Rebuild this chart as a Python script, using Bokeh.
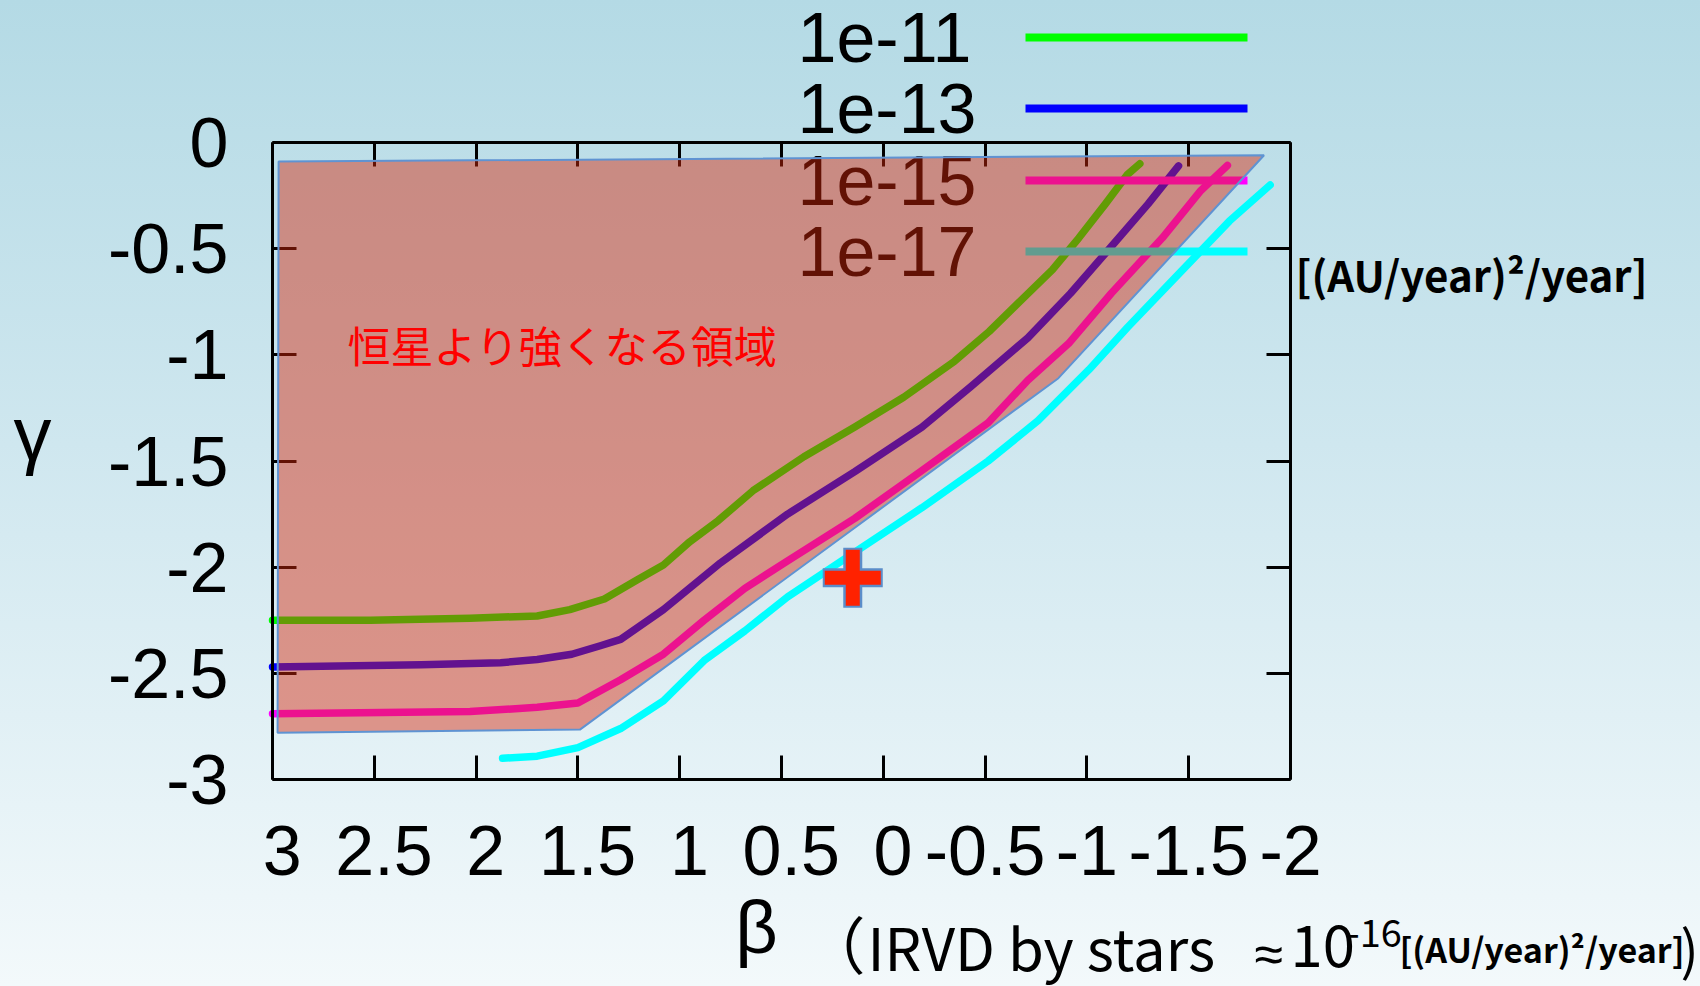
from bokeh.plotting import figure
from bokeh.models import Range1d, FixedTicker, LinearAxis, Label, Arrow, CustomJSTickFormatter
from bokeh.core.properties import value
from bokeh.embed import file_html
from bokeh.resources import INLINE

# ---------------- data ----------------
series_labels = ["1e-11", "1e-13", "1e-15", "1e-17"]
series_colors = ["#00ff00", "#0000ff", "#ff00ff", "#00ffff"]

beta_1e11 = [3.0, 2.52, 2.03, 1.70, 1.54, 1.37, 1.21, 1.08, 0.95, 0.81, 0.64, 0.39, 0.14,
             -0.10, -0.35, -0.52, -0.68, -0.83, -0.96, -1.09, -1.20, -1.26]
gamma_1e11 = [-2.25, -2.25, -2.24, -2.23, -2.20, -2.15, -2.06, -1.99, -1.88, -1.78, -1.64, -1.48,
              -1.34, -1.20, -1.03, -0.89, -0.74, -0.60, -0.45, -0.29, -0.15, -0.10]

beta_1e13 = [3.0, 2.27, 1.88, 1.70, 1.53, 1.39, 1.29, 1.08, 0.80, 0.47, 0.14, -0.19, -0.43,
             -0.71, -0.92, -1.12, -1.30, -1.45]
gamma_1e13 = [-2.47, -2.46, -2.45, -2.435, -2.41, -2.37, -2.34, -2.20, -1.98, -1.75, -1.55,
              -1.34, -1.15, -0.92, -0.71, -0.49, -0.29, -0.11]

beta_1e15 = [3.0, 2.03, 1.70, 1.50, 1.29, 1.08, 0.88, 0.68, 0.47, 0.14, -0.19, -0.515, -0.71,
             -0.91, -1.12, -1.37, -1.56, -1.69]
gamma_1e15 = [-2.69, -2.68, -2.66, -2.64, -2.53, -2.41, -2.25, -2.10, -1.97, -1.77, -1.545,
              -1.32, -1.12, -0.947, -0.71, -0.45, -0.226, -0.108]

beta_1e17 = [1.87, 1.70, 1.50, 1.29, 1.08, 0.88, 0.68, 0.47, 0.11, -0.19, -0.515, -0.76, -1.01,
             -1.20, -1.45, -1.70, -1.90]
gamma_1e17 = [-2.90, -2.89, -2.85, -2.76, -2.63, -2.44, -2.30, -2.14, -1.91, -1.72, -1.50, -1.31,
              -1.07, -0.87, -0.62, -0.37, -0.20]

region_beta = [2.97, -1.87, -0.86, 1.49, 2.975]
region_gamma = [-0.09, -0.06, -1.11, -2.765, -2.78]
region_label = "恒星より強くなる領域"

point_beta = [0.15]
point_gamma = [-2.05]

x_ticks = [3, 2.5, 2, 1.5, 1, 0.5, 0, -0.5, -1, -1.5, -2]
# gnuplot pads non-negative labels with a leading (sign) space
x_tick_labels = ["\u00a03", "\u00a02.5", "\u00a02", "\u00a01.5", "\u00a01", "\u00a00.5", "\u00a00",
                 "-0.5", "-1", "-1.5", "-2"]
y_ticks = [0, -0.5, -1, -1.5, -2, -2.5, -3]
y_tick_labels = ["0", "-0.5", "-1", "-1.5", "-2", "-2.5", "-3"]

series_beta = [beta_1e11, beta_1e13, beta_1e15, beta_1e17]
series_gamma = [gamma_1e11, gamma_1e13, gamma_1e15, gamma_1e17]

# ---------------- layout ----------------
W, H = 1700, 986
BL, BR, BT, BB = 272, 1290, 142, 779   # data box edges in canvas pixels
X0, X1 = 3.0, -2.0     # beta at box left / right
Y0, Y1 = -3.0, 0.0     # gamma at box bottom / top
kx = (X1 - X0) / (BR - BL)
ky = (Y1 - Y0) / (BB - BT)


def bx(px):
    return X0 + kx * (px - BL)


def gy(py):
    return Y1 - ky * (py - BT)


p = figure(width=W, height=H,
           x_range=Range1d(bx(0), bx(W)), y_range=Range1d(gy(H), gy(0)),
           output_backend="svg", toolbar_location=None, min_border=0)
p.title.visible = False
p.border_fill_color = None
p.background_fill_color = None
p.outline_line_color = None
p.grid.visible = False
p.styles = {"background-image": "linear-gradient(to bottom, #b4dae5 0%, #cfe7ef 45%, #f3f9fb 100%)"}

TICK_FONT = "Liberation Sans"
TS = "70px"

xa = p.xaxis[0]
xa.ticker = FixedTicker(ticks=x_ticks)
xa.major_label_overrides = {t: s for t, s in zip(x_ticks, x_tick_labels)}
xa.fixed_location = Y0
xa.bounds = (min(X0, X1), max(X0, X1))
ya = p.yaxis[0]
ya.ticker = FixedTicker(ticks=y_ticks)
ya.major_label_overrides = {t: s for t, s in zip(y_ticks, y_tick_labels)}
ya.fixed_location = X0
ya.bounds = (Y0, Y1)

top_axis = LinearAxis(ticker=FixedTicker(ticks=x_ticks), fixed_location=Y1,
                      bounds=(min(X0, X1), max(X0, X1)),
                      formatter=CustomJSTickFormatter(code="return ''"))
right_axis = LinearAxis(ticker=FixedTicker(ticks=y_ticks), fixed_location=X1,
                        bounds=(Y0, Y1),
                        formatter=CustomJSTickFormatter(code="return ''"))
p.add_layout(top_axis, "above")
p.add_layout(right_axis, "right")

for ax in [xa, ya, top_axis, right_axis]:
    ax.axis_line_width = 3
    ax.axis_line_color = "black"
    ax.major_tick_line_width = 3
    ax.major_tick_line_color = "black"
    ax.major_tick_in = 24
    ax.major_tick_out = 0
    ax.minor_tick_line_color = None
    ax.major_label_text_font = TICK_FONT
    ax.major_label_text_font_size = TS
    ax.major_label_text_color = "black"
xa.major_label_standoff = 32
ya.major_label_standoff = 44
top_axis.major_label_text_font_size = "1px"
right_axis.major_label_text_font_size = "1px"

# ---------------- curves ----------------
for b, g, c in zip(series_beta, series_gamma, series_colors):
    p.line(b, g, line_color=c, line_width=7.5, line_join="round", line_cap="round")

# ---------------- legend (gnuplot style: text then sample) ----------------
leg_line_rows = [37, 108, 180, 251]
leg_text_mid = [37, 108, 180, 251]
for lab, c, row, mid in zip(series_labels, series_colors, leg_line_rows, leg_text_mid):
    p.add_layout(Label(x=bx(797), y=gy(mid), text=lab, text_font=TICK_FONT,
                       text_font_size=TS, text_color="black",
                       text_align="left", text_baseline="middle"))
    p.add_layout(Arrow(end=None, x_start=bx(1025), y_start=gy(row), x_end=bx(1247), y_end=gy(row),
                       line_color=c, line_width=8))

# ---------------- axis titles ----------------
p.add_layout(Label(x=bx(32), y=gy(433), text="γ", text_font=TICK_FONT, text_font_size="76px",
                   text_color="black", text_align="center", text_baseline="middle"))
p.add_layout(Label(x=bx(756), y=gy(927), text="β", text_font=TICK_FONT, text_font_size="74px",
                   text_color="black", text_align="center", text_baseline="middle"))

# units
CJK = "Noto Sans CJK JP"
p.add_layout(Label(x=bx(1295), y=gy(273), text="[(AU/year)²/year]", text_font=CJK,
                   text_font_size="42px", text_font_style="bold", text_color="black",
                   text_align="left", text_baseline="middle"))

# bottom caption, built from pieces of different sizes
caption_parts = [
    # text, left px, middle px, font, size, style
    ("（", 803, 942, CJK, "62px", "normal"),
    ("IRVD by stars", 867, 945, CJK, "58px", "normal"),
    ("≈", 1254, 953, TICK_FONT, "52px", "normal"),
    ("10", 1290, 945, CJK, "58px", "normal"),
    ("-16", 1346, 932, CJK, "38px", "normal"),
    ("[(AU/year)²/year]", 1399, 948, CJK, "34px", "bold"),
    (")", 1680, 946, CJK, "54px", "normal"),
]
for txt, lx, my, fnt, fs, st in caption_parts:
    p.add_layout(Label(x=bx(lx), y=gy(my), text=txt, text_font=fnt, text_font_size=fs,
                       text_font_style=st, text_color="black",
                       text_align="left", text_baseline="middle"))

# ---------------- point ----------------
p.scatter(point_beta, point_gamma, marker="cross", size=60, line_width=19, line_color="#5b8dc9")
p.scatter(point_beta, point_gamma, marker="cross", size=56, line_width=14, line_color="#ff2200")

# ---------------- shaded region (overlay, on top like the original) ----------------
p.patch(region_beta, region_gamma, fill_color="#d5270b", fill_alpha=0.46,
        line_color="#5f93d2", line_width=2, level="overlay")
p.text(x=[bx(347)], y=[gy(343)], text=[region_label], text_font=value(CJK),
       text_font_size="43px", text_color="#ff0000", text_align="left",
       text_baseline="middle", level="overlay")

open("out.html", "w").write(file_html(p, INLINE))
